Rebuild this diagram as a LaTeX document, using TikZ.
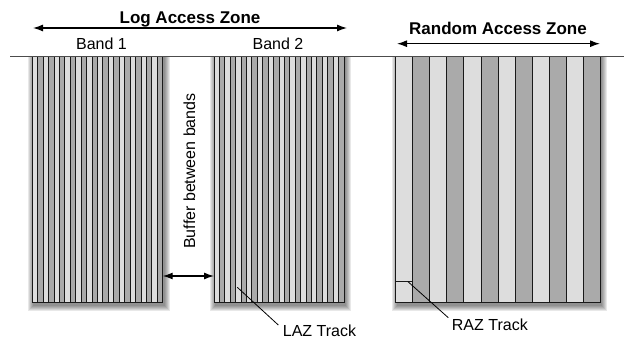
\documentclass[tikz,border=0pt]{standalone}
\usepackage{fontspec}
\setmainfont{Liberation Sans}
\usetikzlibrary{arrows.meta}
\definecolor{lt}{HTML}{DDDDDD}
\definecolor{dk}{HTML}{AAAAAA}
\tikzset{
  bandbox/.style={draw=black, line width=0.9pt, fill=lt, inner sep=0pt, outer sep=0pt},
  stripe/.style={draw=black!90, line width=0.9pt},
  shadowpart/.style={fill=black, fill opacity=0.09, draw=none},
  zonearrow/.style={line width=1.2pt, {Latex[length=10pt,width=7pt]}-{Latex[length=10pt,width=7pt]}},
  zonelabel/.style={font=\bfseries\fontsize{17}{20}\selectfont, anchor=base, inner sep=0pt},
  plainlabel/.style={font=\fontsize{16}{19}\selectfont, anchor=base, inner sep=0pt},
  leader/.style={line width=0.8pt}
}
\newcommand{\myshadow}[3]{% x0, x1, bottom
  \foreach \r in {6,5,4,3,2,1}{
    \fill[shadowpart] (#1-\r+2,56) rectangle (#2+\r+1,#3+\r+2);
  }
}
\newcommand{\mystripes}[4]{% x0, width, count, bottom
  \pgfmathsetmacro{\sw}{#2/#3}
  \pgfmathtruncatemacro{\last}{#3-1}
  \foreach \i in {0,...,\last}{
    \pgfmathsetmacro{\xa}{#1+\i*\sw}
    \pgfmathsetmacro{\xb}{#1+(\i+1)*\sw}
    \pgfmathtruncatemacro{\od}{mod(\i,2)}
    \ifnum\od=0 \def\col{lt}\else\def\col{dk}\fi
    \path[stripe, fill=\col] (\xa,56) rectangle (\xb,#4);
  }
}
\begin{document}
\begin{tikzpicture}[x=1pt,y=-1pt]
\useasboundingbox (0,0) rectangle (624,339);
% shadows
\myshadow{32.3}{162.7}{302.7}
\myshadow{214}{344}{302.7}
\myshadow{395.7}{600.3}{302.7}
% bands
\node[bandbox, minimum width=130.4pt, minimum height=246.7pt] (b1) at (97.5,179.35) {};
\node[bandbox, minimum width=130pt, minimum height=246.7pt] (b2) at (279,179.35) {};
\node[bandbox, minimum width=204.6pt, minimum height=246.7pt] (raz) at (498,179.35) {};
\mystripes{32.3}{130.4}{24}{302.7}
\mystripes{214}{130}{24}{302.7}
\mystripes{395.7}{204.6}{12}{302.7}
% baseline rule
\coordinate (ruleL) at (10,56);
\coordinate (ruleR) at (624,56);
\draw[line width=0.9pt, draw=black!70] (ruleL) -- (ruleR);
% RAZ track box
\coordinate (razboxL) at (395.7,281.7);
\coordinate (razboxR) at (412.75,281.7);
\draw[stripe] (razboxL) -- (razboxR);
% zone labels and arrows
\node[zonelabel] (lazt) at (190,23.3) {Log Access Zone};
\coordinate (lazL) at (33,28);
\coordinate (lazR) at (347,28);
\draw[zonearrow] (lazL) -- (lazR);
\node[plainlabel] (band1) at (101.5,50) {Band 1};
\node[plainlabel] (band2) at (278,50) {Band 2};
\node[zonelabel] (razt) at (498,34.3) {Random Access Zone};
\coordinate (razL) at (397,43.7);
\coordinate (razR) at (600,43.7);
\draw[zonearrow] (razL) -- (razR);
% buffer
\node[plainlabel, rotate=90] (buf) at (195,171) {Buffer between bands};
\coordinate (bufL) at (162.7,276);
\coordinate (bufR) at (214,276);
\draw[zonearrow] (bufL) -- (bufR);
% track labels
\node[plainlabel, anchor=base west] (lazlab) at (282.7,336) {LAZ Track};
\coordinate (lazpt) at (237.3,287.3);
\coordinate (lazend) at (278.3,325);
\draw[leader] (lazpt) -- (lazend);
\node[plainlabel, anchor=base west] (razlab) at (451.7,330) {RAZ Track};
\coordinate (razpt) at (408,281.7);
\coordinate (razend) at (448.3,317.7);
\draw[leader] (razpt) -- (razend);
\end{tikzpicture}
\end{document}
